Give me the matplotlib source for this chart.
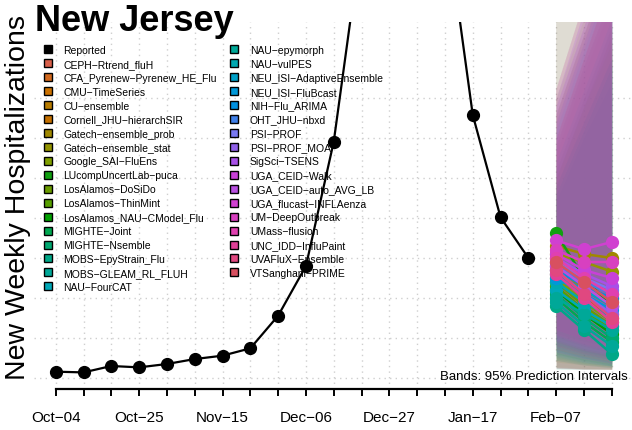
import matplotlib
matplotlib.use("Agg")
import matplotlib.pyplot as plt
from matplotlib.lines import Line2D

plt.rcParams["font.family"] = ["Liberation Sans", "DejaVu Sans"]

# --- data -------------------------------------------------------------
week_labels = ["Oct\u221204", "Oct\u221211", "Oct\u221218", "Oct\u221225", "Nov\u221201",
               "Nov\u221208", "Nov\u221215", "Nov\u221222", "Nov\u221229", "Dec\u221206",
               "Dec\u221213", "Dec\u221220", "Dec\u221227", "Jan\u221203", "Jan\u221210",
               "Jan\u221217", "Jan\u221224", "Jan\u221231", "Feb\u221207", "Feb\u221214",
               "Feb\u221221"]
reported = [79, 70, 150, 133, 175, 237, 279, 371, 779, 1400, 2954,
            5490, 7000, 7200, 5830, 3288, 2009, 1500]
forecast_weeks = [18, 19, 20]

models = ["CEPH\u2212Rtrend_fluH", "CFA_Pyrenew\u2212Pyrenew_HE_Flu", "CMU\u2212TimeSeries",
          "CU\u2212ensemble", "Cornell_JHU\u2212hierarchSIR", "Gatech\u2212ensemble_prob",
          "Gatech\u2212ensemble_stat", "Google_SAI\u2212FluEns", "LUcompUncertLab\u2212puca",
          "LosAlamos\u2212DoSiDo", "LosAlamos\u2212ThinMint", "LosAlamos_NAU\u2212CModel_Flu",
          "MIGHTE\u2212Joint", "MIGHTE\u2212Nsemble", "MOBS\u2212EpyStrain_Flu",
          "MOBS\u2212GLEAM_RL_FLUH", "NAU\u2212FourCAT", "NAU\u2212epymorph", "NAU\u2212vulPES",
          "NEU_ISI\u2212AdaptiveEnsemble", "NEU_ISI\u2212FluBcast", "NIH\u2212Flu_ARIMA",
          "OHT_JHU\u2212nbxd", "PSI\u2212PROF", "PSI\u2212PROF_MOA", "SigSci\u2212TSENS",
          "UGA_CEID\u2212Walk", "UGA_CEID\u2212auto_AVG_LB", "UGA_flucast\u2212INFLAenza",
          "UM\u2212DeepOutbreak", "UMass\u2212flusion", "UNC_IDD\u2212InfluPaint",
          "UVAFluX\u2212Ensemble", "VTSanghani\u2212PRIME"]
colors = ["#d9604a", "#d2691e", "#cc7200", "#b87c00", "#c47000", "#a08800",
          "#949400", "#80a000", "#10a010", "#6a9c00", "#58a000", "#00a000",
          "#00a850", "#00a870", "#00a888", "#00a898", "#00a8b8", "#00a898",
          "#00a8b0", "#00a0c8", "#0098d8", "#0090e0", "#4080e8", "#7878f0",
          "#9060e8", "#a850e8", "#c840d8", "#b850e0", "#d040d0", "#d840c0",
          "#e040b0", "#e04098", "#e04880", "#d85060"]

med_feb07 = [1450, 1350, 1500, 1400, 1300, 1650, 1550, 1250, 1810, 1200, 1150, 1100,
             1000, 1050, 900, 950, 1100, 1000, 1200, 1300, 1250, 1350, 1400, 1450,
             1350, 1500, 1550, 1400, 1720, 1600, 1500, 1300, 1350, 1450]
med_feb14 = [1150, 1050, 1250, 1100, 1000, 1550, 1450, 950, 1250, 900, 850, 800,
             700, 750, 600, 650, 850, 800, 950, 1100, 1050, 1150, 1200, 1250,
             1050, 1300, 1350, 1150, 1610, 1450, 1250, 1000, 1050, 1200]
med_feb21 = [950, 800, 1050, 900, 750, 1500, 1330, 700, 900, 650, 600, 550,
             450, 500, 300, 400, 650, 600, 750, 900, 850, 1000, 1050, 1100,
             800, 1150, 1250, 900, 1700, 1450, 1050, 700, 750, 950]

lo_feb07 = [350, 130, 450, 300, 120, 550, 500, 140, 400, 200, 130, 220,
            115, 240, 110, 260, 280, 220, 300, 380, 330, 420, 460, 480,
            125, 450, 520, 320, 600, 540, 400, 120, 135, 360]
lo_feb14 = [250, 115, 330, 220, 110, 450, 400, 120, 300, 160, 110, 170,
            110, 180, 110, 190, 200, 160, 220, 290, 250, 320, 350, 370,
            110, 340, 400, 240, 480, 420, 300, 110, 115, 270]
lo_feb21 = [180, 110, 250, 160, 110, 380, 320, 110, 220, 130, 110, 140,
            110, 150, 110, 150, 150, 125, 160, 220, 190, 250, 280, 300,
            110, 270, 320, 180, 400, 340, 230, 110, 110, 200]

up_feb07 = [3300, 2800, 3600, 3000, 2600, 4600, 3500, 2500, 5200, 2400, 2500, 2400,
            2300, 2400, 2200, 2300, 2700, 2600, 2900, 3200, 3100, 3300, 3400, 3500,
            3000, 3600, 3500, 3200, 4500, 3600, 3400, 2900, 3000, 3300]
up_feb14 = [4300, 3800, 4700, 4000, 3500, 5600, 4500, 3400, 6200, 3300, 3400, 3200,
            3100, 3200, 3000, 3100, 3600, 3500, 3900, 4200, 4100, 4300, 4400, 4600,
            4000, 4700, 4600, 4200, 5600, 4700, 4400, 3900, 4000, 4300]
up_feb21 = [5300, 4700, 5800, 5000, 4400, 6600, 5500, 4300, 7200, 4100, 4200, 4000,
            3900, 4000, 3700, 3900, 4500, 4400, 4800, 5200, 5100, 5300, 5400, 5600,
            5000, 5800, 5700, 5200, 6700, 5800, 5400, 4800, 5000, 5300]

grid_levels = [0, 500, 1000, 1500, 2000, 2500, 3000, 3500]

# --- figure -----------------------------------------------------------
W, H = 632, 431
fig = plt.figure(figsize=(W / 100, H / 100), dpi=100)
ax = fig.add_axes([33.5 / W, (H - 390) / H, 600.5 / W, 367 / H])
ax.set_xlim(-0.8, 20.8)
ax.set_ylim(-137.5, 4450)

for g in grid_levels:
    ax.axhline(g, color="#cfcfcf", lw=1, ls=(0, (1, 3)), zorder=0)
for wk in range(len(week_labels)):
    ax.axvline(wk, color="#cfcfcf", lw=1, ls=(0, (1, 3)), zorder=0)

ax.plot(range(len(reported)), reported, color="black", lw=1.6,
        marker="o", ms=8.5, zorder=3)

for i, c in enumerate(colors):
    ax.fill_between(forecast_weeks, [lo_feb07[i], lo_feb14[i], lo_feb21[i]],
                    [up_feb07[i], up_feb14[i], up_feb21[i]],
                    color=c, alpha=0.09, lw=0, zorder=1)
for i, c in enumerate(colors):
    ax.plot(forecast_weeks, [med_feb07[i], med_feb14[i], med_feb21[i]],
            color=c, lw=1.8, marker="o", ms=8.5, zorder=4)

for side in ["top", "right", "left"]:
    ax.spines[side].set_visible(False)
ax.spines["bottom"].set_bounds(0, 20)
ax.spines["bottom"].set_linewidth(1.6)
ax.set_yticks([])
ax.set_xticks(range(len(week_labels)))
ax.set_xticklabels([lab if k % 3 == 0 else "" for k, lab in enumerate(week_labels)],
                   fontsize=11)
ax.tick_params(axis="x", length=5, width=1.4, pad=10)

handles = [Line2D([], [], ls="none", marker="s", ms=6, mfc="black", mec="black",
                  mew=1, label="Reported")]
for name, c in zip(models, colors):
    handles.append(Line2D([], [], ls="none", marker="s", ms=6, mfc=c, mec="black",
                          mew=1, label=name))
ax.legend(handles=handles, ncol=2, loc="upper left", bbox_to_anchor=(0.006, 0.955),
          frameon=False, fontsize=7.5, labelspacing=0.38, handlelength=0.8,
          handletextpad=1.1, columnspacing=1.3, borderaxespad=0.2)

ax.text(0.99, 0.035, "Bands: 95% Prediction Intervals", transform=ax.transAxes,
        ha="right", va="center", fontsize=9.5, zorder=5)

fig.text(35 / W, 1 - 31 / H, "New Jersey", fontsize=26, fontweight="bold",
         ha="left", va="baseline")
fig.text(18 / W, 1 - 197 / H, "New Weekly Hospitalizations", fontsize=20.5,
         rotation=90, ha="center", va="center")

fig.savefig("out.png", dpi=100)
